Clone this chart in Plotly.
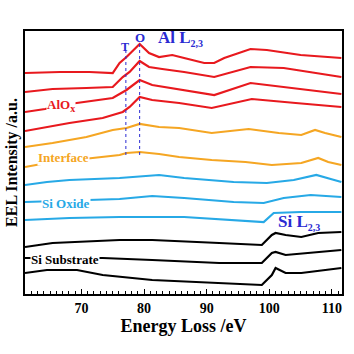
import plotly.graph_objects as go

# Energy loss (eV) and intensity (a.u., offset)
red1_e = [61.0, 66.6, 71.3, 75.0, 76.1, 77.2, 79.3, 80.8, 82.4, 84.5, 86.4, 89.6, 91.2, 92.8, 97.0, 99.6, 105.0, 111.5]
red1_i = [221, 222, 222, 221, 231, 237, 250, 241, 237, 239, 236, 231, 231, 236, 245, 244, 239, 236]

red2_e = [61.0, 65.4, 70.8, 75.0, 76.6, 77.7, 79.3, 80.8, 82.9, 86.4, 91.2, 97.0, 102.3, 111.5]
red2_i = [202, 205, 206, 207, 217, 222, 233, 227, 225, 222, 217, 227, 226, 217]

red3_e = [61.0, 64.2, 68.1, 72.9, 75.0, 77.2, 79.3, 81.3, 86.4, 91.2, 97.0, 102.3, 111.5]
red3_i = [182, 185, 190, 194, 196, 204, 214, 209, 204, 199, 211, 207, 200]

red4_e = [61.0, 68.1, 73.4, 76.6, 77.7, 79.3, 81.3, 85.6, 90.8, 97.2, 104.2, 111.5]
red4_i = [163, 171, 176, 182, 187, 197, 194, 191, 186, 195, 191, 187]

orange1_e = [61.0, 65.4, 70.8, 75.0, 77.2, 79.3, 82.4, 85.6, 90.8, 96.7, 101.5, 105.1, 107.3, 108.9, 111.5]
orange1_i = [147, 151, 157, 164, 166, 170, 167, 166, 161, 165, 161, 159, 164, 161, 157]

orange2_e = [61.0, 64.5, 71.8, 76.1, 77.2, 79.3, 82.4, 85.6, 90.8, 96.2, 100.4, 105.1, 107.8, 109.4, 111.5]
orange2_i = [127, 131, 136, 139, 141, 142, 140, 137, 134, 132, 129, 131, 136, 132, 129]

blue1_e = [61.0, 64.5, 68.1, 76.1, 82.4, 86.4, 94.3, 99.6, 103.9, 107.5, 109.8, 111.5]
blue1_i = [109, 112, 114, 116, 119, 116, 112, 111, 114, 119, 115, 112]

blue2_e = [61.0, 71.8, 76.1, 81.3, 86.4, 94.3, 99.1, 102.3, 106.6, 111.5]
blue2_i = [92, 94, 95, 98, 96, 92, 91, 96, 99, 97]

blue3_e = [61.0, 68.1, 76.1, 86.4, 99.1, 100.7, 105.0, 111.5]
blue3_i = [74, 76, 77, 77, 72, 81, 82, 82]

black1_e = [61.0, 65.4, 76.1, 81.3, 92.0, 98.8, 100.4, 101.0, 102.6, 105.1, 107.8, 111.5]
black1_i = [47, 51, 54, 54, 51, 49, 59, 61, 59, 57, 61, 62]

black2_e = [61.0, 73.4, 81.3, 92.0, 98.8, 100.4, 101.0, 102.6, 111.5]
black2_i = [36, 36, 34, 31, 31, 41, 42, 39, 44]

black3_e = [61.0, 64.5, 69.3, 73.4, 81.3, 92.0, 98.8, 100.4, 101.0, 102.6, 105.1, 111.5]
black3_i = [21, 24, 24, 19, 14, 11, 9, 19, 26, 21, 21, 26]

t_energy = 77.1
o_energy = 79.3
x_ticks = [70, 80, 90, 100, 110]

RED = "#e8191e"
ORANGE = "#f5a623"
BLUE = "#27a9e6"
BLACK = "#000000"
ANN = "#2a2ad2"
FONT = "Liberation Serif"

series = [
    (red1_e, red1_i, RED), (red2_e, red2_i, RED), (red3_e, red3_i, RED), (red4_e, red4_i, RED),
    (orange1_e, orange1_i, ORANGE), (orange2_e, orange2_i, ORANGE),
    (blue1_e, blue1_i, BLUE), (blue2_e, blue2_i, BLUE), (blue3_e, blue3_i, BLUE),
    (black1_e, black1_i, BLACK), (black2_e, black2_i, BLACK), (black3_e, black3_i, BLACK),
]

fig = go.Figure()
for e, i, c in series:
    fig.add_trace(go.Scatter(x=e, y=i, mode="lines", line=dict(color=c, width=2.2),
                             showlegend=False, hoverinfo="skip"))

# dotted markers T and O
for xe, ytop in [(t_energy, 245), (o_energy, 252)]:
    fig.add_shape(type="line", x0=xe, x1=xe, y0=139, y1=ytop, xref="x", yref="y",
                  line=dict(color=ANN, width=1, dash="dot"))

def ann(x, y, text, color, size, bg=True):
    fig.add_annotation(x=x, y=y, xref="x", yref="y", text="<b>" + text + "</b>",
                       showarrow=False, font=dict(family=FONT, size=size, color=color),
                       bgcolor="white" if bg else None, borderpad=0)

SUB = "<sub><span style='font-size:10px'>2,3</span></sub>"
ann(77.0, 247, "T", ANN, 12, bg=False)
ann(79.3, 257, "O", ANN, 13, bg=False)
ann(85.9, 256, "Al L" + SUB, ANN, 17, bg=False)
ann(66.8, 189, "AlO<sub><span style='font-size:10px'>x</span></sub>", RED, 13)
ann(67.2, 137, "Interface", ORANGE, 13)
ann(67.5, 91, "Si Oxide", BLUE, 13)
ann(104.7, 72, "Si L" + SUB, ANN, 17, bg=False)
ann(67.4, 35, "Si Substrate", BLACK, 13)

fig.update_layout(
    width=354, height=354,
    margin=dict(l=25, r=10, t=31, b=60),
    paper_bgcolor="white", plot_bgcolor="white",
    font=dict(family=FONT, color="black"),
)
fig.update_xaxes(
    range=[61.0, 111.6], tickvals=x_ticks, ticks="inside", ticklen=5, tickwidth=1,
    tickcolor="black", minor=dict(dtick=1, ticks="inside", ticklen=3, tickcolor="black"),
    showline=True, linecolor="black", linewidth=1.5, mirror=True, showgrid=False, zeroline=False,
    tickfont=dict(family=FONT, size=14, weight="bold"),
    title=dict(text="Energy Loss /eV", font=dict(family=FONT, size=18, weight="bold"), standoff=3),
)
fig.update_yaxes(
    range=[0, 263], showticklabels=False, ticks="", showline=True, linecolor="black",
    linewidth=1.5, mirror=True, showgrid=False, zeroline=False,
    title=dict(text="EEL Intensity /a.u.", font=dict(family=FONT, size=16, weight="bold"), standoff=2),
)

fig.write_html("out.html")
